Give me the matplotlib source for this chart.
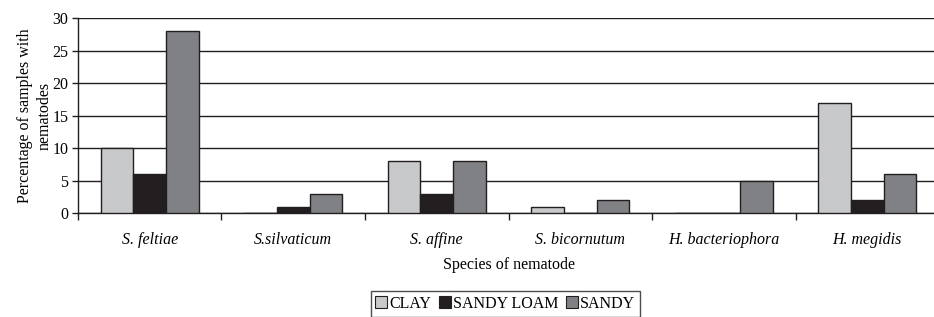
import matplotlib
matplotlib.use("Agg")
import matplotlib.pyplot as plt
import numpy as np
from matplotlib.lines import Line2D
from matplotlib.font_manager import FontProperties

categories = ["S. feltiae", "S.silvaticum", "S. affine", "S. bicornutum", "H. bacteriophora", "H. megidis"]
series_names = ["CLAY", "SANDY LOAM", "SANDY"]
clay = [10, 0, 8, 1, 0, 17]
sandy_loam = [6, 1, 3, 0, 0, 2]
sandy = [28, 3, 8, 2, 5, 6]
colors = ["#c8c9cb", "#231f20", "#808184"]

plt.rcParams['font.family'] = ['Liberation Serif', 'DejaVu Serif']

fig = plt.figure(figsize=(9.34, 3.17), dpi=100)
ax = fig.add_axes([0.0835, 0.328, 0.9219, 0.615])

x = np.arange(len(categories)) + 0.5
w = 0.227
for i, (vals, c) in enumerate(zip([clay, sandy_loam, sandy], colors)):
    ax.bar(x + (i - 1) * w, vals, width=w, color=c, edgecolor="#231f20", linewidth=1.0, zorder=3, label=series_names[i])

ax.set_xlim(0, 6)
ax.set_ylim(0, 30)
ax.set_yticks(np.arange(0, 31, 5))
ax.yaxis.grid(True, color="#231f20", linewidth=1.0, zorder=0)
ax.set_axisbelow(True)
ax.set_xticks(x)
ax.set_xticklabels(categories, fontstyle="italic", fontsize=11.5)
ax.set_xticks(np.arange(0, 7), minor=True)
ax.tick_params(axis="x", which="major", length=0, pad=14)
ax.tick_params(axis="x", which="minor", length=5, direction="out", width=1, color="#231f20")
ax.tick_params(axis="y", length=4, direction="out", width=1, color="#231f20", labelsize=11.5, pad=3)
for s in ["top", "right"]:
    ax.spines[s].set_visible(False)
ax.spines["left"].set_color("#231f20")
ax.spines["bottom"].set_color("#231f20")
ax.spines["left"].set_linewidth(1.0)
ax.spines["bottom"].set_linewidth(1.0)

ax.set_ylabel("Percentage of samples with\nnematodes", fontsize=11.5, linespacing=1.3, labelpad=0)
ax.set_xlabel("Species of nematode", fontsize=11.5, labelpad=6)

handles = [Line2D([], [], marker="s", linestyle="none", markersize=8, markerfacecolor=c,
                  markeredgecolor="#231f20", markeredgewidth=0.8) for c in colors]
leg = fig.legend(handles, series_names, loc="upper center",
                 bbox_to_anchor=(0.541, 1 - 291 / 317),
                 ncol=3, frameon=True, fancybox=False, edgecolor="#231f20",
                 prop=FontProperties(family="Liberation Serif", size=11.5),
                 handlelength=0.7, handletextpad=0.15, columnspacing=0.5, borderpad=0.3,
                 borderaxespad=0)
leg.get_frame().set_linewidth(1.0)

fig.savefig("out.png", dpi=100)
